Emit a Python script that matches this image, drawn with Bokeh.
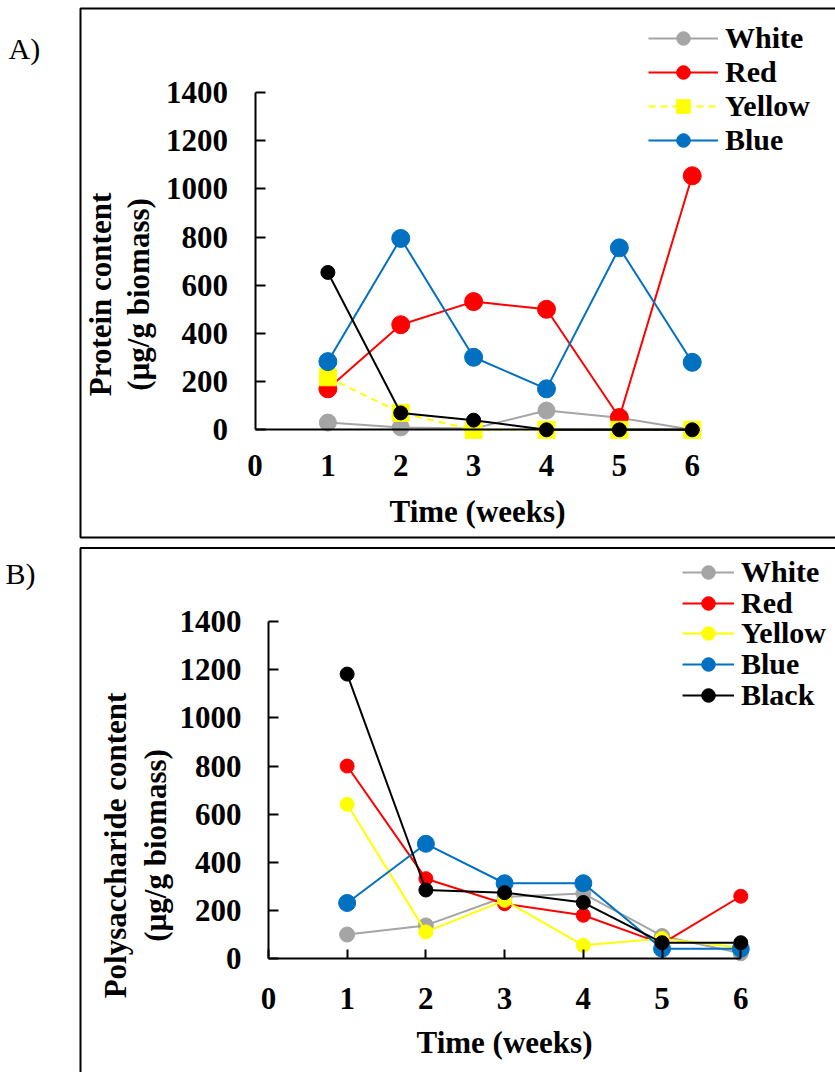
import math
from bokeh.plotting import figure
from bokeh.models import (LinearAxis, FixedTicker, Range1d, Label, Legend,
                          LegendItem, BoxAnnotation)
from bokeh.layouts import column
from bokeh.embed import file_html
from bokeh.resources import INLINE

# ---------------- data ----------------
weeks = [1, 2, 3, 4, 5, 6]
x_ticks = [0, 1, 2, 3, 4, 5, 6]
y_ticks = [0, 200, 400, 600, 800, 1000, 1200, 1400]

series_names = ["White", "Red", "Yellow", "Blue", "Black"]

# Panel A: protein content (ug/g biomass)
protein_white = [30, 10, 5, 80, 50, 0]
protein_red = [170, 436, 532, 500, 51, 1054]
protein_yellow = [218, 70, 0, 0, 0, 0]
protein_blue = [283, 794, 301, 170, 755, 280]
protein_black = [653, 70, 40, 0, 0, 0]

# Panel B: polysaccharide content (ug/g biomass)
poly_white = [100, 138, 256, 270, 94, 22]
poly_red = [800, 332, 228, 180, 62, 259]
poly_yellow = [641, 111, 242, 55, 83, 45]
poly_blue = [231, 477, 313, 313, 41, 41]
poly_black = [1182, 285, 274, 233, 66, 66]

COLORS = {"White": "#A5A5A5", "Red": "#FF0000", "Yellow": "#FFFF00",
          "Blue": "#0070C0", "Black": "#000000"}
FONT = "Liberation Serif"


def make_panel(height, xr, yr, x_bounds, x_tick_in, xtick_standoff,
               xlabel_standoff, box):
    p = figure(width=835, height=height, output_backend="svg",
               toolbar_location=None, x_axis_type=None, y_axis_type=None,
               x_range=Range1d(*xr), y_range=Range1d(*yr),
               min_border_left=0, min_border_right=0,
               min_border_top=0, min_border_bottom=0)
    p.outline_line_color = None
    p.background_fill_color = "white"
    p.border_fill_color = "white"

    xa = LinearAxis(fixed_location=0, ticker=FixedTicker(ticks=x_ticks),
                    bounds=x_bounds)
    xa.axis_label = "Time (weeks)"
    ya = LinearAxis(fixed_location=0, ticker=FixedTicker(ticks=y_ticks),
                    bounds=(0, 1400))
    for ax in (xa, ya):
        ax.axis_line_width = 2
        ax.axis_line_color = "black"
        ax.major_tick_line_width = 2
        ax.major_tick_out = 0
        ax.minor_tick_line_color = None
        ax.major_label_text_font = FONT
        ax.major_label_text_font_style = "bold"
        ax.major_label_text_font_size = "31px"
        ax.major_label_text_color = "black"
        ax.axis_label_text_font = FONT
        ax.axis_label_text_font_style = "bold"
        ax.axis_label_text_font_size = "31px"
        ax.axis_label_text_color = "black"
    xa.major_tick_in = x_tick_in
    if x_tick_in == 0:
        xa.major_tick_line_color = None
    ya.major_tick_in = 10
    xa.major_label_standoff = xtick_standoff
    xa.axis_label_standoff = xlabel_standoff
    ya.major_label_standoff = 27
    p.add_layout(xa, "below")
    p.add_layout(ya, "left")

    # panel box (left / top / bottom edges; right edge lies off the page)
    left, right, top, bottom = box
    p.add_layout(BoxAnnotation(left=left, right=right, top=top, bottom=bottom,
                               fill_color=None, fill_alpha=0,
                               line_color="black", line_width=2,
                               line_alpha=1))
    return p


def ylabel(p, x, y, text):
    p.add_layout(Label(x=x, y=y, x_units="screen", y_units="screen",
                       text=text, angle=math.pi / 2, text_align="center",
                       text_baseline="alphabetic", text_font=FONT,
                       text_font_style="bold", text_font_size="31px",
                       text_color="black"))


def legend_style(**kw):
    base = dict(padding=0, margin=0, border_line_color=None,
                background_fill_alpha=0, label_text_font=FONT,
                label_text_font_style="bold", label_text_font_size="30px",
                label_text_color="black")
    base.update(kw)
    return base


# ---------------- Panel A ----------------
pA = make_panel(540, (-3.4925, 7.966), (-459.3, 1781.3), (0, 6.1), 0,
                25, 15, (-2.3947, 9.0, 1748.1, -446.9))

A_data = [protein_white, protein_red, protein_yellow, protein_blue, protein_black]
A_sizes = [17, 18, 17, 18, 14]
A_items = []
for name, vals, sz in zip(series_names, A_data, A_sizes):
    c = COLORS[name]
    if name == "Yellow":
        ln = pA.line(weeks, vals, line_color=c, line_width=2, line_dash="7 5")
        sc = pA.scatter(weeks, vals, marker="square", size=sz,
                        fill_color=c, line_color=c)
    else:
        ln = pA.line(weeks, vals, line_color=c, line_width=2)
        sc = pA.scatter(weeks, vals, marker="circle", size=sz,
                        fill_color=c, line_color=c)
    if name != "Black":
        A_items.append(LegendItem(label=name, renderers=[ln, sc]))

pA.add_layout(Legend(items=A_items, location=(648, 383), glyph_width=70,
                     glyph_height=34, label_height=34, spacing=0,
                     label_standoff=7, **legend_style()))

ylabel(pA, 100.3, 246, "Protein content")
ylabel(pA, 137.7, 246, "(µg/g biomass)")
pA.add_layout(Label(x=8, y=492, x_units="screen", y_units="screen",
                    text="A)", text_font=FONT, text_font_size="30px",
                    text_baseline="alphabetic", text_color="black"))

# ---------------- Panel B ----------------
pB = make_panel(532, (-3.4028, 7.203), (-473.2, 1737.0), (0, 6), 9,
                29, 13, (-2.3866, 9.0, 1705.9, -700.0))

B_data = [poly_white, poly_red, poly_yellow, poly_blue, poly_black]
B_sizes = [15, 14, 14, 17, 14]
B_rows = [483, 452.5, 422, 391, 360]   # legend row positions (screen px)
for name, vals, sz, row in zip(series_names, B_data, B_sizes, B_rows):
    c = COLORS[name]
    ln = pB.line(weeks, vals, line_color=c, line_width=2)
    sc = pB.scatter(weeks, vals, marker="circle", size=sz,
                    fill_color=c, line_color=c)
    pB.add_layout(Legend(items=[LegendItem(label=name, renderers=[ln, sc])],
                         location=(682, row), glyph_width=52,
                         glyph_height=34, label_height=34, spacing=0,
                         label_standoff=7, **legend_style()))

ylabel(pB, 115, 227, "Polysaccharide content")
ylabel(pB, 155, 227, "(µg/g biomass)")
pB.add_layout(Label(x=5, y=499, x_units="screen", y_units="screen",
                    text="B)", text_font=FONT, text_font_size="30px",
                    text_baseline="alphabetic", text_color="black"))

layout = column(pA, pB, spacing=0)
open("out.html", "w").write(file_html(layout, INLINE))
